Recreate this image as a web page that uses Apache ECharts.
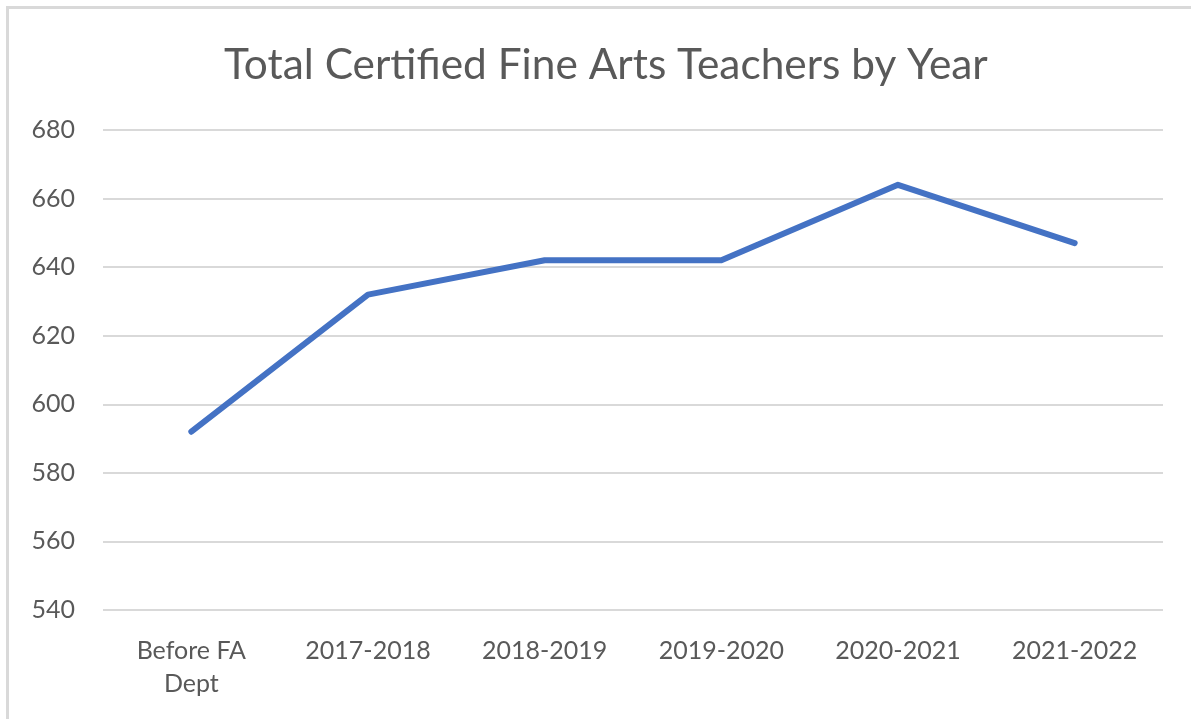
<!DOCTYPE html>
<html><head><meta charset="utf-8">
<script src="https://cdn.jsdelivr.net/npm/echarts@6/dist/echarts.min.js"></script>
<style>
html,body{margin:0;padding:0;background:#fff;}
#c{width:1191px;height:719px;}
#b{position:absolute;left:6px;top:6px;width:1300px;height:800px;border-left:3px solid #d9d9d9;border-top:3px solid #d9d9d9;pointer-events:none;}
</style></head>
<body><div id="c"></div><div id="b"></div>
<script>
const categories = ['Before FA\nDept','2017-2018','2018-2019','2019-2020','2020-2021','2021-2022'];
const values = [592, 632, 642, 642, 664, 647];
const yMin = 540, yMax = 680, yStep = 20;
const chart = echarts.init(document.getElementById('c'));
chart.setOption({
  animation:false,
  title:{text:'Total Certified Fine Arts Teachers by Year',left:219,top:39,
    textStyle:{fontFamily:'Lato',fontSize:42.4,fontWeight:'normal',color:'#595959'}},
  grid:{left:103,right:28,top:130,bottom:109},
  xAxis:{type:'category',data:categories,boundaryGap:true,
    axisLine:{show:false},axisTick:{show:false},
    axisLabel:{fontFamily:'Lato',fontSize:25,color:'#595959',margin:24,lineHeight:33}},
  yAxis:{type:'value',min:yMin,max:yMax,interval:yStep,
    axisLine:{show:false},axisTick:{show:false},
    axisLabel:{fontFamily:'Lato',fontSize:25,color:'#595959',margin:28},
    splitLine:{lineStyle:{color:'#d9d9d9',width:2}}},
  series:[{type:'line',data:values,symbol:'none',
    lineStyle:{color:'#4472C4',width:6,cap:'round',join:'round'}}]
});
</script></body></html>
